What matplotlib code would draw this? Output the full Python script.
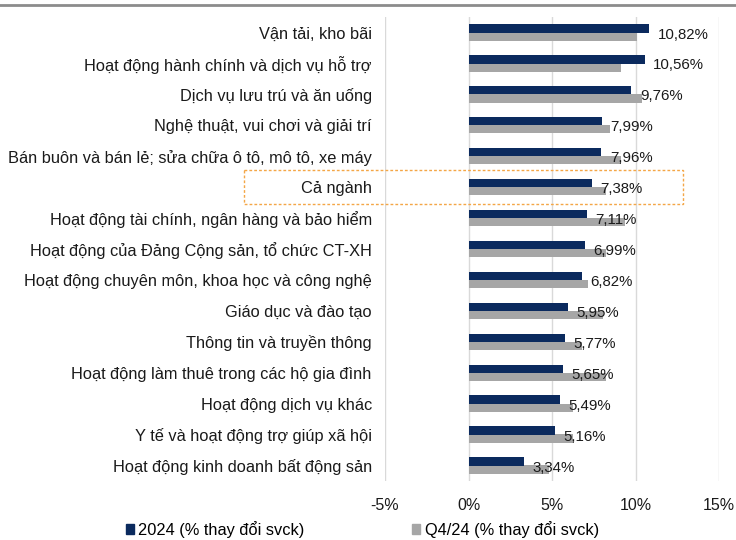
import matplotlib.pyplot as plt
from matplotlib.patches import Rectangle
from matplotlib.lines import Line2D
import matplotlib.transforms as mtransforms
import numpy as np

plt.rcParams['font.family'] = ['Liberation Sans', 'DejaVu Sans']

# Data
categories = ["Vận tải, kho bãi",
              "Hoạt động hành chính và dịch vụ hỗ trợ",
              "Dịch vụ lưu trú và ăn uống",
              "Nghệ thuật, vui chơi và giải trí",
              "Bán buôn và bán lẻ; sửa chữa ô tô, mô tô, xe máy",
              "Cả ngành",
              "Hoạt động tài chính, ngân hàng và bảo hiểm",
              "Hoạt động của Đảng Cộng sản, tổ chức CT-XH",
              "Hoạt động chuyên môn, khoa học và công nghệ",
              "Giáo dục và đào tạo",
              "Thông tin và truyền thông",
              "Hoạt động làm thuê trong các hộ gia đình",
              "Hoạt động dịch vụ khác",
              "Y tế và hoạt động trợ giúp xã hội",
              "Hoạt động kinh doanh bất động sản"]
y2024 = [10.82, 10.56, 9.76, 7.99, 7.96, 7.38, 7.11, 6.99, 6.82, 5.95, 5.77, 5.65, 5.49, 5.16, 3.34]
q424 = [10.08, 9.13, 10.38, 8.46, 9.13, 8.24, 9.35, 8.24, 7.17, 8.04, 6.78, 8.24, 6.23, 6.23, 4.82]
xticks = [-5, 0, 5, 10, 15]

navy = "#0B2A5E"
grey = "#A6A6A6"
txt = "#1A1A1A"

fig = plt.figure(figsize=(7.36, 5.40), dpi=100)
ax = fig.add_axes([385/736, 1-481/540, 334/736, 464/540])

pos = np.arange(len(categories))
h = 0.27
ax.barh(pos - 0.13, y2024, height=h, color=navy, zorder=3)
ax.barh(pos + 0.13, q424, height=h, color=grey, zorder=2)

for p, v in zip(pos, y2024):
    ax.annotate(f"{v:.2f}%".replace(".", ","), (v, p), xytext=(6, -1.5),
                textcoords="offset points", ha="left", va="center",
                fontsize=10.8, color=txt, zorder=4)

ax.set_yticks(pos)
ax.set_yticklabels(categories, fontsize=11.8, color=txt)
ax.set_ylim(len(categories) - 0.5, -0.5)
ax.set_xlim(-5, 15)
ax.set_xticks(xticks)
ax.set_xticklabels([f"{t}%" for t in xticks], fontsize=11.5, color=txt)
ax.tick_params(axis="y", length=0, pad=9.5)
ax.tick_params(axis="x", length=0, pad=12)
ax.grid(axis="x", color="#D9D9D9", linewidth=1, zorder=0)
for s in ax.spines.values():
    s.set_visible(False)

# dashed box around the whole-industry row
k = categories.index("Cả ngành")
trans = mtransforms.blended_transform_factory(ax.transAxes, ax.transData)
ax.add_patch(Rectangle((-0.422, k - 0.55), 1.315, 1.1, transform=trans,
                       fill=False, edgecolor="#F4A646", linestyle=(0, (2, 1.5)),
                       linewidth=1, clip_on=False, zorder=5))

# top border line
fig.add_artist(Line2D([0, 1], [1 - 5/540, 1 - 5/540], transform=fig.transFigure,
                      color="#8C8C8C", linewidth=2))

handles = [Rectangle((0, 0), 1, 1, color=navy), Rectangle((0, 0), 1, 1, color=grey)]
fig.legend(handles, ["2024 (% thay đổi svck)", "Q4/24 (% thay đổi svck)"],
           loc="center", bbox_to_anchor=(0.492, 0.02), ncol=2, frameon=False,
           fontsize=11.8, handlelength=0.5, handleheight=0.5, handletextpad=0.25,
           columnspacing=6.6)

fig.savefig("out.png", dpi=100)
